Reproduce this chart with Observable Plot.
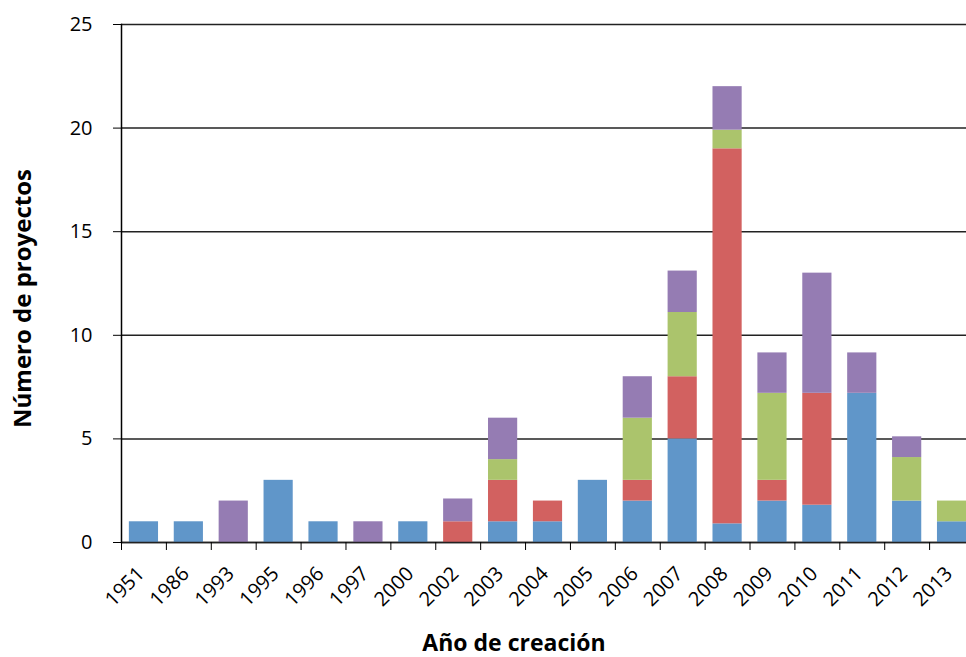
<!DOCTYPE html>
<html>
<head>
<meta charset="utf-8">
<script src="https://cdn.jsdelivr.net/npm/d3@7"></script>
<script src="https://cdn.jsdelivr.net/npm/@observablehq/plot@0.6"></script>
<style>
  html, body { margin: 0; padding: 0; background: #fff; }
  #chart { width: 966px; height: 657px; }
</style>
</head>
<body>
<div id="chart"></div>
<script>
const years = ["1951","1986","1993","1995","1996","1997","2000","2002","2003","2004","2005","2006","2007","2008","2009","2010","2011","2012","2013"];
const seriesNames = ["Serie 1", "Serie 2", "Serie 3", "Serie 4"];
const seriesColors = ["#6096c9", "#d26160", "#abc46c", "#957cb3"];
const serie1 = [1, 1, 0, 3, 1, 0, 1, 0, 1, 1, 3, 2, 5, 0.9, 2, 1.8, 7.2, 2, 1];
const serie2 = [0, 0, 0, 0, 0, 0, 0, 1, 2, 1, 0, 1, 3, 18.1, 1, 5.4, 0, 0, 0];
const serie3 = [0, 0, 0, 0, 0, 0, 0, 0, 1, 0, 0, 3, 3.1, 0.9, 4.2, 0, 0, 2.1, 1];
const serie4 = [0, 0, 2, 0, 0, 1, 0, 1.1, 2, 0, 0, 2, 2, 2.1, 1.95, 5.8, 1.95, 1, 0];
const yTicks = [0, 5, 10, 15, 20, 25];
const xTitle = "Año de creación";
const yTitle = "Número de proyectos";

const allSeries = [serie1, serie2, serie3, serie4];
const rows = [];
allSeries.forEach((vals, s) => {
  vals.forEach((v, i) => {
    if (v > 0) rows.push({year: years[i], series: seriesNames[s], value: v});
  });
});

const W = 966, H = 657;
const left = 121, right = 974;
const step = (right - left) / years.length;
const font = "'Open Sans', sans-serif";

const chart = Plot.plot({
  width: W,
  height: H,
  marginTop: 24,
  marginBottom: 115,
  marginLeft: left,
  marginRight: 0,
  style: {fontFamily: font, fontSize: "20px", color: "#000", background: "#fff"},
  x: {type: "band", domain: years, range: [left, right], round: false, paddingInner: 0.35, paddingOuter: 0.175, label: null},
  y: {domain: [0, 25], label: null},
  color: {domain: seriesNames, range: seriesColors},
  marks: [
    Plot.gridY(yTicks, {stroke: "#222", strokeOpacity: 1, strokeWidth: 1.5}),
    Plot.barY(rows, {x: "year", y: "value", fill: "series"}),
    Plot.ruleY([0], {stroke: "#222", strokeWidth: 1.5}),
    Plot.frame({anchor: "left", stroke: "#000", strokeWidth: 1.5}),
    Plot.axisY(yTicks, {tickSize: 8, tickPadding: 21, fontSize: 20, label: null, stroke: "#000"}),
    Plot.axisX({tickSize: 8, tickFormat: () => "", dx: -step / 2, label: null, stroke: "#000"}),
    Plot.axisX({tickSize: 0, tickRotate: -45, tickPadding: 28, fontSize: 20, label: null, dx: -3}),
    Plot.text([xTitle], {frameAnchor: "bottom", textAnchor: "middle", dy: 108, dx: -30, fontWeight: "bold", fontSize: 23, fill: "#000"}),
    Plot.text([yTitle], {frameAnchor: "left", textAnchor: "middle", rotate: -90, dx: -98, dy: 15, fontWeight: "bold", fontSize: 24, fill: "#000"})
  ]
});
document.getElementById("chart").appendChild(chart);
</script>
</body>
</html>
